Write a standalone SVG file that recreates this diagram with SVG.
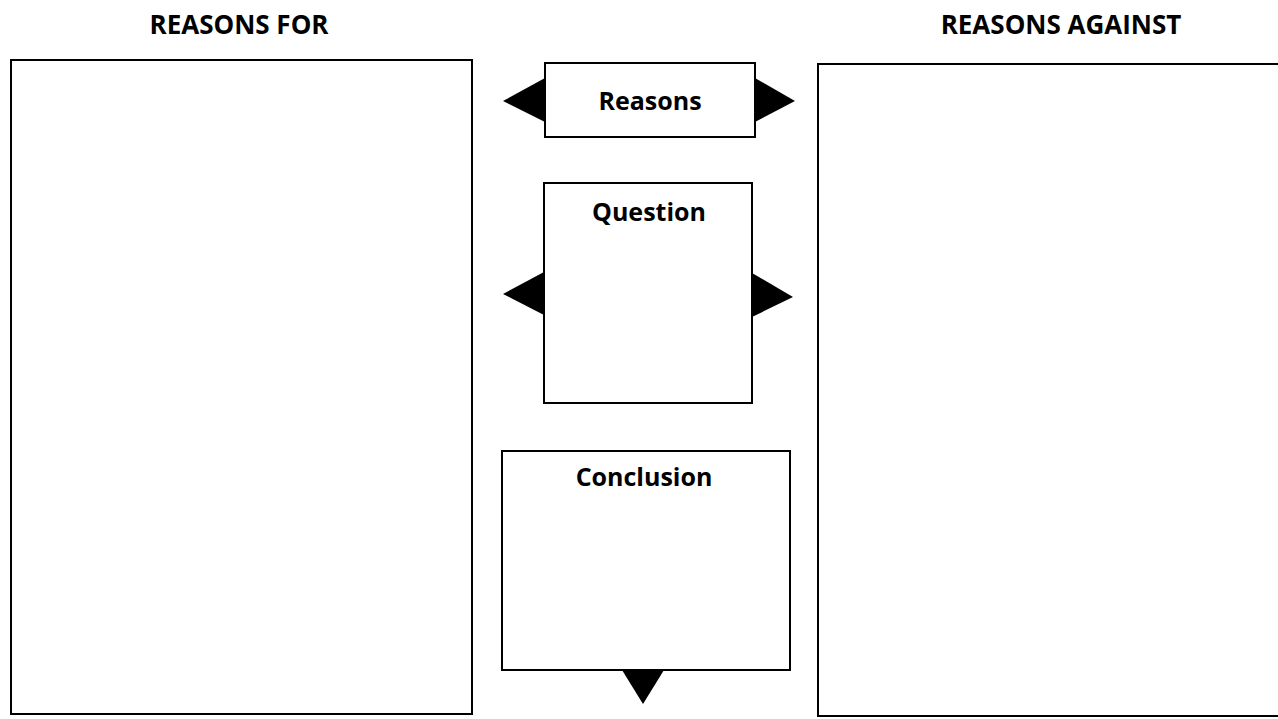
<svg xmlns="http://www.w3.org/2000/svg" width="1278" height="719" viewBox="0 0 1278 719">
<style>
.box{fill:#fff;stroke:#000;stroke-width:2}
.arr{fill:#000;stroke:none}
.t{font-family:"Open Sans","Liberation Sans",sans-serif;font-weight:bold;fill:#000;text-anchor:middle}
.h{font-size:26px}
.l{font-size:25px}
</style>
<rect width="1278" height="719" fill="#fff"/>
<g id="reasons-for">
<text class="t h" x="239" y="34">REASONS FOR</text>
<rect class="box" x="11" y="60" width="461" height="654"/>
</g>
<g id="reasons-against">
<text class="t h" x="1061" y="34">REASONS AGAINST</text>
<rect class="box" x="818" y="64" width="470" height="652"/>
</g>
<g id="connectors">
<polygon class="arr" points="545,78 503,101 545,122"/>
<polygon class="arr" points="755,78 795,101 755,122"/>
<polygon class="arr" points="544,272 503,294 544,315"/>
<polygon class="arr" points="752,273 793,297 752,317"/>
<polygon class="arr" points="622,670 664,670 643,704"/>
</g>
<g id="reasons">
<rect class="box" x="545" y="63" width="210" height="74"/>
<text class="t l" x="650" y="110">Reasons</text>
</g>
<g id="question">
<rect class="box" x="544" y="183" width="208" height="220"/>
<text class="t l" x="649" y="221">Question</text>
</g>
<g id="conclusion">
<rect class="box" x="502" y="451" width="288" height="219"/>
<text class="t l" x="644" y="486">Conclusion</text>
</g>
</svg>
